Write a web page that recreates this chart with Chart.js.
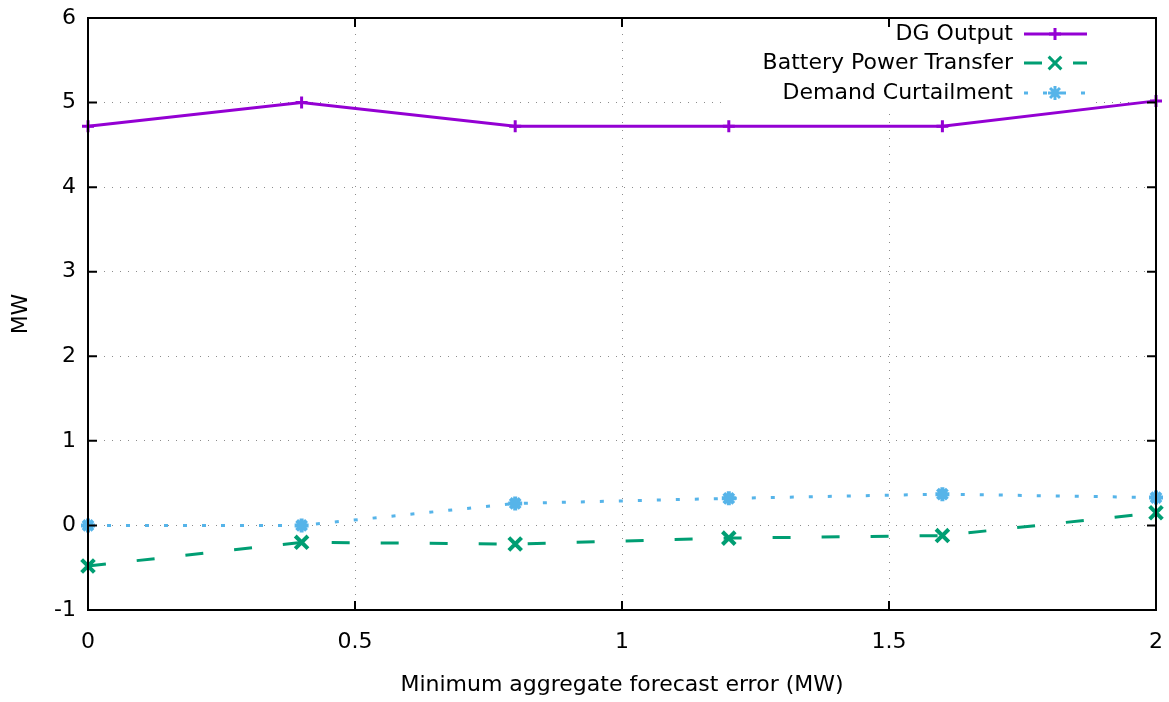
<!DOCTYPE html>
<html>
<head>
<meta charset="utf-8">
<script src="https://cdn.jsdelivr.net/npm/chart.js@4/dist/chart.umd.min.js"></script>
<style>
  html, body { margin: 0; padding: 0; background: #fff; }
  #wrap { width: 1169px; height: 702px; }
</style>
</head>
<body>
<div id="wrap"><canvas id="chart" width="1169" height="702"></canvas></div>
<script>
//x values (MW)
const errorLevels = [0, 0.4, 0.8, 1.2, 1.6, 2.0];
//series values
const dgOutput = [4.72, 5.0, 4.72, 4.72, 4.72, 5.02];
const batteryTransfer = [-0.48, -0.2, -0.22, -0.15, -0.12, 0.15];
const demandCurtail = [0, 0, 0.26, 0.32, 0.37, 0.33];
const seriesNames = ["DG Output", "Battery Power Transfer", "Demand Curtailment"];
const xTicks = [0, 0.5, 1, 1.5, 2];
const yTicks = [-1, 0, 1, 2, 3, 4, 5, 6];

const FONT = "'DejaVu Sans', sans-serif";
const FS = 22;
const toPoints = (vals) => vals.map((v, i) => ({ x: errorLevels[i], y: v }));

//gnuplot-ish style per series
const styles = [
  { color: "#9400d3", dash: [], width: 3, point: "cross", r: 6, pw: 3 },
  { color: "#009e73", dash: [18, 31], width: 3, point: "crossRot", r: 9, pw: 4 },
  { color: "#56b4e9", dash: [4, 15], width: 3, point: "star", r: 7, pw: 4 },
];

//Draw the legend inside the plot, text on the left and sample on the right
const insideLegend = {
  id: "insideLegend",
  beforeDatasetsDraw(chart) {
    const ctx = chart.ctx;
    ctx.save();
    ctx.fillStyle = "#fff";
    ctx.fillRect(722, 20, 372, 92);
    ctx.font = FS + "px " + FONT;
    ctx.textAlign = "right";
    ctx.textBaseline = "middle";
    const rows = [34, 63, 93];
    seriesNames.forEach((name, i) => {
      const st = styles[i];
      ctx.fillStyle = "#000";
      ctx.fillText(name, 1013, rows[i]);
      ctx.strokeStyle = st.color;
      ctx.lineWidth = st.width;
      ctx.setLineDash(st.dash);
      ctx.beginPath();
      ctx.moveTo(1024, rows[i]);
      ctx.lineTo(1087, rows[i]);
      ctx.stroke();
      ctx.setLineDash([]);
      Chart.helpers.drawPoint(ctx, { pointStyle: st.point, radius: st.r, borderWidth: st.pw }, 1055, rows[i]);
    });
    ctx.restore();
  },
};

//Box border with inward ticks on all sides
const frame = {
  id: "frame",
  afterDraw(chart) {
    const { ctx, chartArea: a, scales } = chart;
    ctx.save();
    ctx.strokeStyle = "#000";
    ctx.lineWidth = 2;
    ctx.setLineDash([]);
    ctx.strokeRect(a.left, a.top, a.right - a.left, a.bottom - a.top);
    ctx.beginPath();
    xTicks.forEach((t) => {
      const px = scales.x.getPixelForValue(t);
      ctx.moveTo(px, a.bottom); ctx.lineTo(px, a.bottom - 9);
      ctx.moveTo(px, a.top); ctx.lineTo(px, a.top + 9);
    });
    yTicks.forEach((t) => {
      const py = scales.y.getPixelForValue(t);
      ctx.moveTo(a.left, py); ctx.lineTo(a.left + 9, py);
      ctx.moveTo(a.right, py); ctx.lineTo(a.right - 9, py);
    });
    ctx.stroke();
    ctx.restore();
  },
};

const datasets = [dgOutput, batteryTransfer, demandCurtail].map((vals, i) => ({
  label: seriesNames[i],
  data: toPoints(vals),
  borderColor: styles[i].color,
  backgroundColor: styles[i].color,
  borderWidth: styles[i].width,
  borderDash: styles[i].dash,
  borderCapStyle: "butt",
  pointStyle: styles[i].point,
  pointRadius: styles[i].r,
  pointBorderWidth: styles[i].pw,
  pointBorderColor: styles[i].color,
  tension: 0,
  clip: false,
}));

new Chart(document.getElementById("chart"), {
  type: "line",
  data: { datasets },
  plugins: [insideLegend, frame],
  options: {
    responsive: false,
    animation: false,
    layout: { padding: { left: 0, top: 18, right: 12, bottom: 0 } },
    plugins: { legend: { display: false }, tooltip: { enabled: false } },
    scales: {
      x: {
        type: "linear",
        min: 0,
        max: 2,
        afterBuildTicks: (s) => { s.ticks = xTicks.map((v) => ({ value: v })); },
        afterFit: (s) => { s.height = 92; s.paddingLeft = 0; s.paddingRight = 0; },
        border: { display: false, dash: [1, 7] },
        grid: { color: "#8c8c8c", lineWidth: 1, drawTicks: false },
        ticks: { color: "#000", font: { family: FONT, size: FS }, padding: 19, maxRotation: 0, callback: (v) => String(v) },
        title: { display: true, text: "Minimum aggregate forecast error (MW)", color: "#000", font: { family: FONT, size: FS }, padding: { top: 4, bottom: 4 } },
      },
      y: {
        min: -1,
        max: 6,
        afterBuildTicks: (s) => { s.ticks = yTicks.map((v) => ({ value: v })); },
        afterFit: (s) => { s.width = 88; s.paddingTop = 0; s.paddingBottom = 0; },
        border: { display: false, dash: [1, 7] },
        grid: { color: "#8c8c8c", lineWidth: 1, drawTicks: false },
        ticks: { color: "#000", font: { family: FONT, size: FS }, padding: 12 },
        title: { display: true, text: "MW", color: "#000", font: { family: FONT, size: FS }, padding: { top: 8, bottom: 0 } },
      },
    },
  },
});
</script>
</body>
</html>
